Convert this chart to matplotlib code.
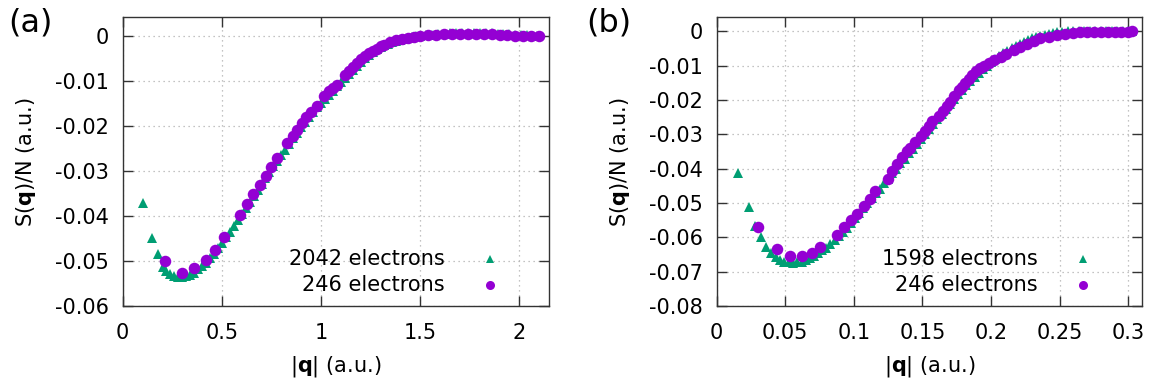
"""
plot_sq_electrons.py
"""

import matplotlib.pyplot as plt

# 数据 (a): 2042 electrons
q_a_2042 = [
    0.104, 0.146, 0.176, 0.202, 0.220, 0.240, 0.260, 0.280, 0.300, 0.320,
    0.340, 0.360, 0.380, 0.400, 0.420, 0.440, 0.460, 0.480, 0.500, 0.520,
    0.540, 0.560, 0.580, 0.600, 0.620, 0.640, 0.660, 0.680, 0.700, 0.720,
    0.740, 0.760, 0.780, 0.800, 0.820, 0.840, 0.860, 0.880, 0.900, 0.920,
    0.940, 0.960, 0.980, 1.000, 1.020, 1.040, 1.060, 1.080, 1.100, 1.120,
    1.140, 1.160, 1.180, 1.200, 1.220, 1.240, 1.260, 1.280, 1.300, 1.320,
    1.340, 1.360, 1.380, 1.400, 1.420, 1.440, 1.460, 1.480, 1.500, 1.530,
    1.560, 1.590, 1.620, 1.650, 1.680, 1.710, 1.740, 1.770, 1.800, 1.830,
    1.860, 1.890, 1.920, 1.950, 1.980, 2.010, 2.040, 2.070, 2.090,
]
s_a_2042 = [
    -0.0371, -0.0450, -0.0484, -0.0513, -0.0522, -0.0529, -0.0533, -0.0535, -0.0535, -0.0534,
    -0.0531, -0.0526, -0.0519, -0.0512, -0.0504, -0.0494, -0.0484, -0.0472, -0.0460, -0.0447,
    -0.0435, -0.0422, -0.0409, -0.0395, -0.0382, -0.0369, -0.0356, -0.0342, -0.0329, -0.0315,
    -0.0302, -0.0290, -0.0278, -0.0265, -0.0253, -0.0241, -0.0228, -0.0216, -0.0204, -0.0192,
    -0.0180, -0.0169, -0.0159, -0.0150, -0.0141, -0.0131, -0.0122, -0.0113, -0.0104, -0.0094,
    -0.0085, -0.0076, -0.0067, -0.0058, -0.0050, -0.0043, -0.0037, -0.0031, -0.0026, -0.0022,
    -0.0018, -0.0015, -0.0012, -0.0009, -0.0007, -0.0005, -0.0003, -0.0002, -0.0001, 0.0001,
    0.0002, 0.0003, 0.0004, 0.0005, 0.0005, 0.0006, 0.0006, 0.0006, 0.0006, 0.0005,
    0.0005, 0.0004, 0.0004, 0.0003, 0.0002, 0.0001, 0.0001, 0.0000, 0.0000,
]

# 数据 (a): 246 electrons
q_a_246 = [
    0.213, 0.301, 0.361, 0.420, 0.465, 0.512, 0.592, 0.625, 0.659, 0.692,
    0.723, 0.748, 0.776, 0.830, 0.857, 0.877, 0.903, 0.925, 0.948, 0.978,
    1.015, 1.042, 1.060, 1.079, 1.121, 1.140, 1.160, 1.180, 1.200, 1.220,
    1.240, 1.260, 1.280, 1.300, 1.320, 1.350, 1.380, 1.410, 1.440, 1.470,
    1.500, 1.540, 1.580, 1.620, 1.660, 1.700, 1.740, 1.780, 1.820, 1.860,
    1.900, 1.940, 1.980, 2.020, 2.060, 2.100,
]
s_a_246 = [
    -0.0500, -0.0526, -0.0516, -0.0497, -0.0475, -0.0448, -0.0398, -0.0374, -0.0352, -0.0332,
    -0.0311, -0.0291, -0.0272, -0.0238, -0.0223, -0.0210, -0.0195, -0.0181, -0.0169, -0.0156,
    -0.0134, -0.0122, -0.0116, -0.0110, -0.0087, -0.0079, -0.0070, -0.0061, -0.0053, -0.0045,
    -0.0039, -0.0034, -0.0029, -0.0024, -0.0020, -0.0015, -0.0011, -0.0008, -0.0005, -0.0003,
    -0.0001, 0.0001, 0.0002, 0.0003, 0.0004, 0.0004, 0.0004, 0.0004, 0.0004, 0.0003,
    0.0002, 0.0001, 0.0000, 0.0000, 0.0000, 0.0000,
]

# 数据 (b): 1598 electrons
q_b_1598 = [
    0.0159, 0.0237, 0.0281, 0.0325, 0.0361, 0.0395, 0.0430, 0.0463, 0.0495, 0.0530,
    0.0560, 0.0590, 0.0620, 0.0650, 0.0680, 0.0710, 0.0740, 0.0770, 0.0800, 0.0830,
    0.0860, 0.0890, 0.0920, 0.0950, 0.0980, 0.1010, 0.1040, 0.1070, 0.1100, 0.1130,
    0.1160, 0.1190, 0.1220, 0.1250, 0.1280, 0.1310, 0.1340, 0.1370, 0.1400, 0.1430,
    0.1460, 0.1490, 0.1520, 0.1550, 0.1580, 0.1610, 0.1640, 0.1670, 0.1700, 0.1730,
    0.1760, 0.1790, 0.1820, 0.1850, 0.1880, 0.1910, 0.1940, 0.1970, 0.2000, 0.2030,
    0.2060, 0.2090, 0.2120, 0.2150, 0.2180, 0.2210, 0.2240, 0.2270, 0.2300, 0.2330,
    0.2360, 0.2390, 0.2420, 0.2450, 0.2480, 0.2520, 0.2560, 0.2600, 0.2640, 0.2680,
    0.2720, 0.2760, 0.2800, 0.2840, 0.2880, 0.2920, 0.2960, 0.3000, 0.3030,
]
s_b_1598 = [
    -0.0413, -0.0512, -0.0566, -0.0599, -0.0628, -0.0645, -0.0658, -0.0666, -0.0671, -0.0673,
    -0.0674, -0.0673, -0.0671, -0.0667, -0.0661, -0.0654, -0.0645, -0.0638, -0.0630, -0.0620,
    -0.0609, -0.0597, -0.0585, -0.0572, -0.0559, -0.0545, -0.0530, -0.0516, -0.0501, -0.0487,
    -0.0472, -0.0458, -0.0443, -0.0429, -0.0414, -0.0400, -0.0385, -0.0371, -0.0356, -0.0342,
    -0.0327, -0.0313, -0.0298, -0.0284, -0.0269, -0.0255, -0.0240, -0.0226, -0.0212, -0.0198,
    -0.0184, -0.0170, -0.0157, -0.0145, -0.0133, -0.0121, -0.0110, -0.0100, -0.0090, -0.0081,
    -0.0072, -0.0064, -0.0057, -0.0050, -0.0043, -0.0037, -0.0031, -0.0026, -0.0021, -0.0017,
    -0.0013, -0.0010, -0.0007, -0.0005, -0.0003, -0.0001, 0.0000, 0.0001, 0.0002, 0.0002,
    0.0002, 0.0002, 0.0002, 0.0002, 0.0001, 0.0001, 0.0001, 0.0000, 0.0000,
]

# 数据 (b): 246 electrons
q_b_246 = [
    0.0301, 0.0439, 0.0532, 0.0622, 0.0699, 0.0755, 0.0877, 0.0926, 0.0980, 0.1023,
    0.1072, 0.1120, 0.1157, 0.1247, 0.1279, 0.1315, 0.1352, 0.1388, 0.1412, 0.1449,
    0.1490, 0.1522, 0.1550, 0.1570, 0.1620, 0.1650, 0.1680, 0.1700, 0.1728, 0.1765,
    0.1790, 0.1814, 0.1840, 0.1863, 0.1890, 0.1923, 0.1950, 0.1984, 0.2020, 0.2070,
    0.2110, 0.2166, 0.2210, 0.2264, 0.2310, 0.2360, 0.2420, 0.2483, 0.2540, 0.2600,
    0.2650, 0.2700, 0.2750, 0.2800, 0.2850, 0.2900, 0.2950, 0.3000, 0.3030,
]
s_b_246 = [
    -0.0570, -0.0635, -0.0654, -0.0655, -0.0647, -0.0628, -0.0592, -0.0570, -0.0551, -0.0532,
    -0.0508, -0.0488, -0.0464, -0.0429, -0.0407, -0.0387, -0.0365, -0.0349, -0.0339, -0.0322,
    -0.0305, -0.0291, -0.0275, -0.0262, -0.0248, -0.0233, -0.0219, -0.0205, -0.0190, -0.0171,
    -0.0161, -0.0151, -0.0139, -0.0127, -0.0117, -0.0108, -0.0100, -0.0093, -0.0083, -0.0074,
    -0.0065, -0.0055, -0.0046, -0.0036, -0.0028, -0.0021, -0.0016, -0.0012, -0.0008, -0.0005,
    -0.0003, -0.0002, -0.0002, -0.0002, -0.0002, -0.0002, -0.0001, -0.0001, 0.0000,
]

# 坐标轴刻度
a_xticks = [0, 0.5, 1, 1.5, 2]
a_xticklabels = ["0", "0.5", "1", "1.5", "2"]
a_yticks = [0, -0.01, -0.02, -0.03, -0.04, -0.05, -0.06]
a_yticklabels = ["0", "-0.01", "-0.02", "-0.03", "-0.04", "-0.05", "-0.06"]
b_xticks = [0, 0.05, 0.1, 0.15, 0.2, 0.25, 0.3]
b_xticklabels = ["0", "0.05", "0.1", "0.15", "0.2", "0.25", "0.3"]
b_yticks = [0, -0.01, -0.02, -0.03, -0.04, -0.05, -0.06, -0.07, -0.08]
b_yticklabels = ["0", "-0.01", "-0.02", "-0.03", "-0.04", "-0.05", "-0.06", "-0.07", "-0.08"]

GREEN = "#009e73"
PURPLE = "#9400d3"


def draw_key(ax, label, y, marker, color, size):
    """gnuplot 风格图例: 文字右对齐, 符号在右"""
    ax.text(0.755, y, label, transform=ax.transAxes, ha="right", va="center",
            fontsize=15)
    ax.plot([0.861], [y], transform=ax.transAxes, linestyle="none",
            marker=marker, markersize=size, color=color, markeredgewidth=0,
            clip_on=False)


def draw_panel(ax, q_big, s_big, label_big, q_small, s_small,
               xticks, xticklabels, yticks, yticklabels, xlim, ylim):
    ax.plot(q_big, s_big, linestyle="none", marker="^", markersize=7.5,
            color=GREEN, markeredgewidth=0)
    ax.plot(q_small, s_small, linestyle="none", marker="o", markersize=8.3,
            color=PURPLE, markeredgewidth=0)
    ax.set_xlim(*xlim)
    ax.set_ylim(*ylim)
    ax.set_xticks(xticks, xticklabels)
    ax.set_yticks(yticks, yticklabels)
    ax.grid(True, color="#b0b0b0", linestyle=(0, (1, 3)), linewidth=0.9)
    ax.tick_params(direction="in", length=7, width=1, top=True, right=True,
                   labelsize=15, color="#333333")
    ax.tick_params(axis="x", pad=12)
    ax.tick_params(axis="y", pad=10)
    for sp in ax.spines.values():
        sp.set_color("#333333")
        sp.set_linewidth(1.0)
    ax.set_xlabel(r"|$\mathbf{q}$| (a.u.)", fontsize=15, labelpad=8)
    ax.set_ylabel(r"S($\mathbf{q}$)/N (a.u.)", fontsize=15, labelpad=12)

    # 图例
    draw_key(ax, label_big, 0.163, "^", GREEN, 6.0)
    draw_key(ax, "246 electrons", 0.073, "o", PURPLE, 6.5)


plt.rcParams["font.family"] = ["DejaVu Sans"]
plt.rcParams["axes.unicode_minus"] = False

fig = plt.figure(figsize=(11.54, 3.85), dpi=100)
ax_a = fig.add_axes([0.1063, 0.2052, 0.3697, 0.7494])
ax_b = fig.add_axes([0.6209, 0.2052, 0.3687, 0.7494])

draw_panel(ax_a, q_a_2042, s_a_2042, "2042 electrons", q_a_246, s_a_246,
           a_xticks, a_xticklabels, a_yticks, a_yticklabels,
           (0, 2.151), (-0.06, 0.004))
draw_panel(ax_b, q_b_1598, s_b_1598, "1598 electrons", q_b_246, s_b_246,
           b_xticks, b_xticklabels, b_yticks, b_yticklabels,
           (0, 0.310), (-0.08, 0.004))

fig.text(0.026, 0.94, "(a)", fontsize=23, ha="center", va="center")
fig.text(0.528, 0.94, "(b)", fontsize=23, ha="center", va="center")

fig.savefig("out.png", dpi=100)
